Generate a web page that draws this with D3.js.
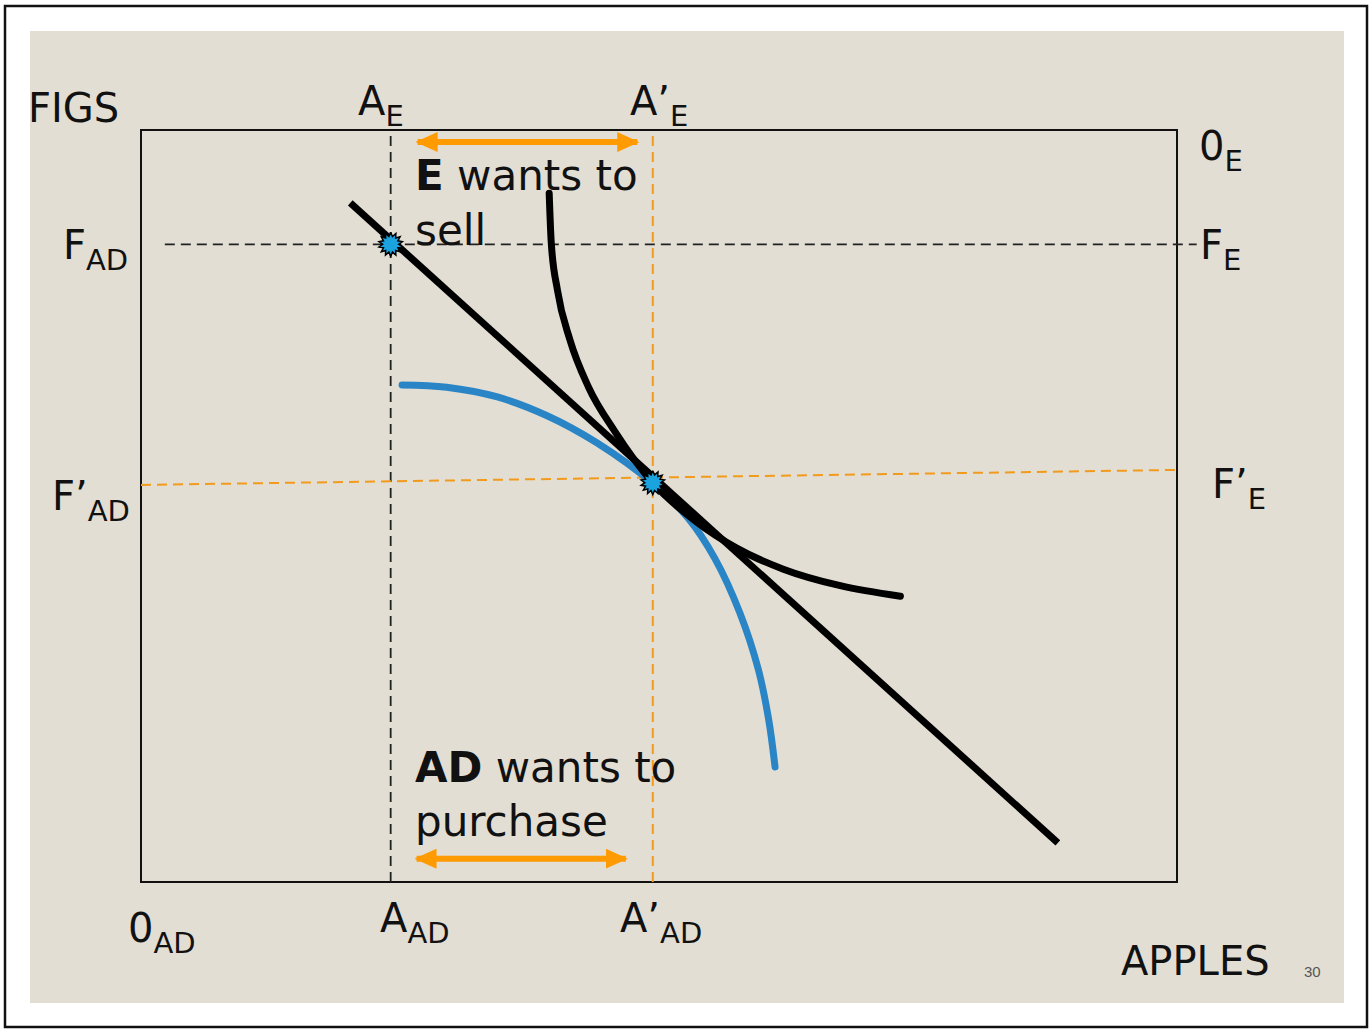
<!DOCTYPE html>
<html>
<head>
<meta charset="utf-8">
<script src="https://cdn.jsdelivr.net/npm/d3@7"></script>
<style>
  body { margin: 0; background: #fff; }
  svg text { font-family: "DejaVu Sans", sans-serif; fill: #111; }
</style>
</head>
<body>
<svg id="chart" width="1370" height="1030"></svg>
<script>
// ---- data (apples on x, figs on y, 0..100 box units) ----
var budgetLine = [[20.2, 90.3], [88.5, 5.2]];
var curveE = [[39.4, 91.6], [39.6, 85.0], [40.2, 78.7], [41.4, 72.1], [43.2, 65.8], [45.7, 60.0],
              [49.4, 53.1], [53.5, 48.0], [57.5, 44.4], [62.0, 41.6], [67.5, 39.4], [73.3, 38.0]];
var curveAD = [[25.2, 66.1], [29.5, 65.8], [34.4, 64.5], [39.2, 62.0], [44.0, 58.4], [49.4, 53.0],
               [52.8, 48.4], [55.4, 43.0], [57.8, 35.8], [59.6, 28.2], [60.6, 21.5], [61.2, 15.3]];
var applesAD = [24.1, 49.4];          // A_AD, A'_AD
var figsF = 84.8;                     // F_AD / F_E
var figsFPrime = [[0, 52.8], [100, 54.8]];   // F'_AD -> F'_E
var points = [[24.1, 84.8], [49.4, 53.1]];
var sellArrow = [[26.7, 98.4], [47.9, 98.4]];
var buyArrow = [[26.6, 3.1], [46.8, 3.1]];

var svg = d3.select("#chart");

// slide frame
svg.append("rect").attr("x", 5).attr("y", 6).attr("width", 1362).attr("height", 1021)
    .attr("fill", "#fff").attr("stroke", "#111").attr("stroke-width", 2.5);
svg.append("rect").attr("x", 30).attr("y", 31).attr("width", 1314).attr("height", 972)
    .attr("fill", "#E3DED3");

var x = d3.scaleLinear().domain([0, 100]).range([141, 1177]);
var y = d3.scaleLinear().domain([0, 100]).range([882, 130]);

// edgeworth box
svg.append("rect").attr("x", x(0)).attr("y", y(100))
    .attr("width", x(100) - x(0)).attr("height", y(0) - y(100))
    .attr("fill", "none").attr("stroke", "#111").attr("stroke-width", 2);

var line = d3.line().x(function (d) { return x(d[0]); }).y(function (d) { return y(d[1]); });

// guides
svg.append("path").datum([[applesAD[0], 0], [applesAD[0], 100]]).attr("d", line)
    .attr("stroke", "#222").attr("stroke-width", 1.8).attr("stroke-dasharray", "10,6");
svg.append("path").datum([[2.3, figsF], [101.9, figsF]]).attr("d", line)
    .attr("stroke", "#222").attr("stroke-width", 1.8).attr("stroke-dasharray", "10,6");
svg.append("path").datum([[applesAD[1], 0], [applesAD[1], 100]]).attr("d", line)
    .attr("stroke", "#F29A1C").attr("stroke-width", 2).attr("stroke-dasharray", "10,6");
svg.append("path").datum(figsFPrime).attr("d", line)
    .attr("stroke", "#F29A1C").attr("stroke-width", 2).attr("stroke-dasharray", "10,6");

// curves
var smoothE = d3.line().x(function (d) { return x(d[0]); }).y(function (d) { return y(d[1]); })
    .curve(d3.curveMonotoneX);
var smoothAD = d3.line().x(function (d) { return x(d[0]); }).y(function (d) { return y(d[1]); })
    .curve(d3.curveCatmullRom.alpha(0.5));
svg.append("path").datum(curveAD).attr("d", smoothAD)
    .attr("fill", "none").attr("stroke", "#2A85C6").attr("stroke-width", 7).attr("stroke-linecap", "round");
svg.append("path").datum(budgetLine).attr("d", line)
    .attr("stroke", "#000").attr("stroke-width", 7);
svg.append("path").datum(curveE).attr("d", smoothE)
    .attr("fill", "none").attr("stroke", "#000").attr("stroke-width", 7).attr("stroke-linecap", "round");

// starburst points
var spikes = 14;
var burst = d3.range(spikes * 2 + 1).map(function (i) {
    return [i * Math.PI / spikes, i % 2 ? 8 : 12];
});
var burstPath = d3.lineRadial()(burst);
svg.selectAll(".pt").data(points).enter().append("path")
    .attr("class", "pt")
    .attr("transform", function (d) { return "translate(" + x(d[0]) + "," + y(d[1]) + ")"; })
    .attr("d", burstPath)
    .attr("fill", "#1BA3E0").attr("stroke", "#000").attr("stroke-width", 1.5);

// orange arrows
var defs = svg.append("defs");
defs.append("marker").attr("id", "head").attr("markerUnits", "userSpaceOnUse")
    .attr("viewBox", "0 0 22 20").attr("refX", 20).attr("refY", 10)
    .attr("markerWidth", 22).attr("markerHeight", 20).attr("orient", "auto-start-reverse")
    .append("path").attr("d", "M0,0L22,10L0,20Z").attr("fill", "#FF9A00");
[sellArrow, buyArrow].forEach(function (a) {
    svg.append("path").datum(a).attr("d", line)
        .attr("stroke", "#FF9A00").attr("stroke-width", 6)
        .attr("marker-start", "url(#head)").attr("marker-end", "url(#head)");
});

// labels: [main, sub, x, baseline]
var labels = [
    ["FIGS", "", 28, 122],
    ["A", "E", 358, 115],
    ["A\u2019", "E", 630, 115],
    ["0", "E", 1199, 160],
    ["F", "AD", 63, 259],
    ["F", "E", 1200, 259],
    ["F\u2019", "AD", 52, 510],
    ["F\u2019", "E", 1212, 498],
    ["0", "AD", 128, 942],
    ["A", "AD", 380, 932],
    ["A\u2019", "AD", 620, 932],
    ["APPLES", "", 1121, 975]
];
labels.forEach(function (l) {
    var t = svg.append("text").attr("x", l[2]).attr("y", l[3]).style("font-size", "40px");
    t.append("tspan").text(l[0]);
    if (l[1]) {
        t.append("tspan").attr("dx", 0).attr("dy", 11).style("font-size", "29px").text(l[1]);
    }
});

var note1 = svg.append("text").attr("x", 415).attr("y", 190).style("font-size", "42px");
note1.append("tspan").style("font-weight", "bold").text("E");
note1.append("tspan").text(" wants to");
svg.append("text").attr("x", 415).attr("y", 245).style("font-size", "42px").text("sell");

var note2 = svg.append("text").attr("x", 415).attr("y", 782).style("font-size", "42px");
note2.append("tspan").style("font-weight", "bold").text("AD");
note2.append("tspan").text(" wants to");
svg.append("text").attr("x", 415).attr("y", 836).style("font-size", "42px").text("purchase");

svg.append("text").attr("x", 1304).attr("y", 977)
    .style("font-size", "15px").style("font-family", "Liberation Sans, sans-serif")
    .style("fill", "#555").text("30");
</script>
</body>
</html>
